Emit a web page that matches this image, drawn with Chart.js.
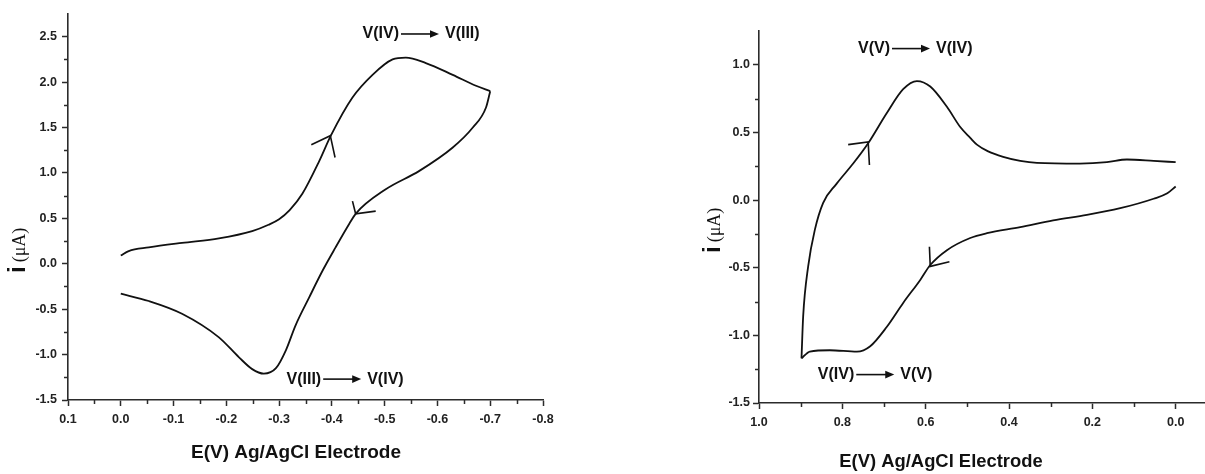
<!DOCTYPE html>
<html>
<head>
<meta charset="utf-8">
<script src="https://cdn.jsdelivr.net/npm/chart.js@4.4.1/dist/chart.umd.min.js"></script>
<style>
  html, body { margin: 0; padding: 0; background: #fff; }
  body { width: 1205px; height: 474px; position: relative; overflow: hidden; }
  .box { position: absolute; top: 0; height: 474px; }
  #boxL { left: 0; width: 560px; }
  #boxR { left: 640px; width: 565px; }
</style>
</head>
<body>
<div class="box" id="boxL"><canvas id="cL"></canvas></div>
<div class="box" id="boxR"><canvas id="cR"></canvas></div>
<script>
// ---------- Data: left voltammogram (V(III)/V(IV)) ----------
const leftForwardE = [0, -0.015, -0.053, -0.116, -0.186, -0.249, -0.28, -0.3, -0.32, -0.344, -0.376, -0.398, -0.439, -0.477, -0.515, -0.54, -0.578, -0.629, -0.673, -0.7];
const leftForwardI = [0.09, 0.14, 0.18, 0.23, 0.28, 0.36, 0.43, 0.49, 0.59, 0.77, 1.13, 1.41, 1.83, 2.08, 2.25, 2.27, 2.21, 2.08, 1.96, 1.90];
const leftReverseE = [-0.7, -0.692, -0.667, -0.629, -0.565, -0.502, -0.445, -0.433, -0.407, -0.382, -0.357, -0.331, -0.313, -0.294, -0.271, -0.249, -0.224, -0.186, -0.116, -0.053, 0];
const leftReverseI = [1.90, 1.72, 1.50, 1.28, 1.02, 0.82, 0.55, 0.44, 0.18, -0.08, -0.37, -0.68, -0.95, -1.15, -1.21, -1.16, -1.03, -0.81, -0.55, -0.41, -0.33];
const leftArrowUpE = [-0.361, -0.397, -0.406];
const leftArrowUpI = [1.31, 1.41, 1.17];
const leftArrowDownE = [-0.439, -0.445, -0.483];
const leftArrowDownI = [0.69, 0.55, 0.58];
const leftNoteFrom = ['V(IV)', 'V(III)'];
const leftNoteTo = ['V(III)', 'V(IV)'];
const leftNoteE = [-0.569, -0.425];
const leftNoteI = [2.53, -1.27];

// ---------- Data: right voltammogram (V(IV)/V(V)) ----------
const rightForwardE = [0.0, 0.02, 0.053, 0.133, 0.213, 0.294, 0.373, 0.453, 0.493, 0.549, 0.589, 0.613, 0.654, 0.694, 0.733, 0.765, 0.83, 0.878, 0.898];
const rightForwardI = [0.10, 0.05, 0.01, -0.06, -0.11, -0.15, -0.20, -0.245, -0.28, -0.37, -0.48, -0.59, -0.76, -0.94, -1.08, -1.12, -1.11, -1.12, -1.17];
const rightReverseE = [0.898, 0.894, 0.882, 0.866, 0.846, 0.814, 0.774, 0.738, 0.694, 0.654, 0.621, 0.589, 0.549, 0.517, 0.493, 0.477, 0.45, 0.414, 0.373, 0.333, 0.23, 0.165, 0.117, 0.053, 0.0];
const rightReverseI = [-1.17, -0.86, -0.49, -0.22, -0.02, 0.12, 0.27, 0.42, 0.64, 0.82, 0.88, 0.84, 0.69, 0.54, 0.46, 0.41, 0.36, 0.32, 0.29, 0.275, 0.27, 0.28, 0.30, 0.29, 0.28];
const rightArrowUpE = [0.786, 0.738, 0.735];
const rightArrowUpI = [0.41, 0.43, 0.26];
const rightArrowDownE = [0.591, 0.589, 0.543];
const rightArrowDownI = [-0.345, -0.49, -0.456];
const rightNoteFrom = ['V(V)', 'V(IV)'];
const rightNoteTo = ['V(IV)', 'V(V)'];
const rightNoteE = [0.625, 0.7215];
const rightNoteI = [1.12, -1.29];

// ---------- Axis ranges ----------
const leftXRange = [-0.8, 0.1];
const leftYRange = [-1.5, 2.75];
const rightXRange = [-0.068, 1.0];
const rightYRange = [-1.5, 1.25];
const axisTitleText = 'E(V) Ag/AgCl Electrode';
const yTitleMain = 'i';
const yTitleUnit = '(\u03bcA)';

const SANS = '"Liberation Sans", Arial, Helvetica, sans-serif';
const SERIF = '"Liberation Serif", "Times New Roman", serif';
const INK = '#111';
const AXIS = '#2b2b2b';

function pts(E, I) { return E.map((e, k) => ({ x: e, y: I[k] })); }
function curve(E, I) {
  return { data: pts(E, I), borderColor: INK, borderWidth: 1.8, pointRadius: 0, showLine: true,
           cubicInterpolationMode: 'monotone', fill: false };
}
function arrowLine(E, I) {
  return { data: pts(E, I), borderColor: INK, borderWidth: 1.6, pointRadius: 0, showLine: true, tension: 0, fill: false };
}
function fmt(v) { v = Number(v); if (Math.abs(v) < 1e-9) v = 0; return v.toFixed(1); }
function stepTicks(step) {
  return (scale) => {
    const out = [];
    const n0 = Math.ceil(scale.min / step - 1e-9), n1 = Math.floor(scale.max / step + 1e-9);
    for (let n = n0; n <= n1; n++) out.push({ value: Math.round(n * step * 1e6) / 1e6 });
    scale.ticks = out;
  };
}

const decor = {
  id: 'decor',
  afterDraw(chart, args, o) {
    const ctx = chart.ctx;
    const xs = chart.scales.x, ys = chart.scales.y;
    ctx.save();
    // minor ticks
    ctx.strokeStyle = AXIS; ctx.lineWidth = 1.5;
    const minor = (scale, step, major, horiz) => {
      const n0 = Math.ceil(scale.min / step - 1e-9), n1 = Math.floor(scale.max / step + 1e-9);
      for (let n = n0; n <= n1; n++) {
        const v = n * step;
        const r = v / major;
        if (Math.abs(r - Math.round(r)) < 1e-6) continue;
        if (Math.abs(v - scale.min) < 1e-9 || Math.abs(v - scale.max) < 1e-9) continue;
        const p = Math.round(scale.getPixelForValue(v)) + 0.5;
        ctx.beginPath();
        if (horiz) { ctx.moveTo(p, chart.chartArea.bottom); ctx.lineTo(p, chart.chartArea.bottom + 4); }
        else { ctx.moveTo(chart.chartArea.left, p); ctx.lineTo(chart.chartArea.left - 4, p); }
        ctx.stroke();
      }
    };
    minor(xs, o.xMinor, o.xMajor, true);
    minor(ys, o.yMinor, o.yMajor, false);

    // x axis title
    ctx.fillStyle = INK;
    ctx.font = 'bold ' + o.xTitleSize + 'px ' + SANS;
    ctx.textAlign = 'center'; ctx.textBaseline = 'middle';
    ctx.fillText(axisTitleText, o.xTitleX, o.xTitleY);

    // y axis title (rotated, mixed fonts)
    ctx.save();
    ctx.translate(o.yTitleX, o.yTitleY);
    ctx.rotate(-Math.PI / 2);
    ctx.textAlign = 'left'; ctx.textBaseline = 'alphabetic';
    ctx.font = 'bold 24px ' + SANS;
    ctx.fillText(yTitleMain, 0, 0);
    const wi = ctx.measureText(yTitleMain).width;
    ctx.font = '18px ' + SERIF;
    ctx.fillText(yTitleUnit, wi + 4, 0);
    ctx.restore();

    // reaction annotations
    ctx.font = 'bold 16px ' + SANS;
    ctx.textBaseline = 'middle'; ctx.textAlign = 'left';
    for (let k = 0; k < o.from.length; k++) {
      const cx = xs.getPixelForValue(o.noteE[k]);
      const cy = ys.getPixelForValue(o.noteI[k]);
      const w1 = ctx.measureText(o.from[k]).width;
      const w2 = ctx.measureText(o.to[k]).width;
      const L = 38, g1 = 2, g2 = 6;
      const total = w1 + g1 + L + g2 + w2;
      const x = cx - total / 2;
      ctx.fillText(o.from[k], x, cy);
      const ax0 = x + w1 + g1, ax1 = ax0 + L;
      ctx.strokeStyle = INK; ctx.lineWidth = 1.6;
      ctx.beginPath(); ctx.moveTo(ax0, cy); ctx.lineTo(ax1 - 7, cy); ctx.stroke();
      ctx.beginPath(); ctx.moveTo(ax1, cy); ctx.lineTo(ax1 - 9, cy - 3.8); ctx.lineTo(ax1 - 9, cy + 3.8); ctx.closePath(); ctx.fill();
      ctx.fillText(o.to[k], ax1 + g2, cy);
    }
    ctx.restore();
  }
};

function makeChart(id, cfg) {
  return new Chart(document.getElementById(id), {
    type: 'scatter',
    data: { datasets: cfg.datasets },
    options: {
      responsive: true, maintainAspectRatio: false, animation: false, devicePixelRatio: 1,
      layout: { padding: { top: cfg.padTop, right: cfg.padRight, left: 0, bottom: 0 } },
      plugins: { legend: { display: false }, tooltip: { enabled: false }, decor: cfg.decor },
      scales: {
        x: {
          type: 'linear', reverse: true, min: cfg.xRange[0], max: cfg.xRange[1],
          afterFit: s => { s.height = cfg.xHeight; },
          afterBuildTicks: stepTicks(cfg.decor.xMajor),
          ticks: { callback: fmt, padding: 6, maxRotation: 0, autoSkip: false,
                   color: '#222', font: { family: SANS, size: 12.5, weight: 'bold' } },
          grid: { display: true, drawOnChartArea: false, drawTicks: true, tickLength: 6, tickWidth: 1.5, tickColor: AXIS, color: AXIS },
          border: { display: true, color: AXIS, width: 1.6 },
          title: { display: false }
        },
        y: {
          type: 'linear', min: cfg.yRange[0], max: cfg.yRange[1],
          afterFit: s => { s.width = cfg.yWidth; },
          afterBuildTicks: stepTicks(cfg.decor.yMajor),
          ticks: { callback: fmt, padding: cfg.yPad, autoSkip: false,
                   color: '#222', font: { family: SANS, size: 12.5, weight: 'bold' } },
          grid: { display: true, drawOnChartArea: false, drawTicks: true, tickLength: 6, tickWidth: 1.5, tickColor: AXIS, color: AXIS },
          border: { display: true, color: AXIS, width: 1.6 },
          title: { display: false }
        }
      }
    },
    plugins: [decor]
  });
}

makeChart('cL', {
  datasets: [
    curve(leftForwardE, leftForwardI),
    curve(leftReverseE, leftReverseI),
    arrowLine(leftArrowUpE, leftArrowUpI),
    arrowLine(leftArrowDownE, leftArrowDownI)
  ],
  xRange: leftXRange, yRange: leftYRange,
  padTop: 14, padRight: 17, xHeight: 74, yWidth: 68, yPad: 5,
  decor: {
    xMajor: 0.1, xMinor: 0.05, yMajor: 0.5, yMinor: 0.25,
    xTitleX: 296, xTitleY: 453, xTitleSize: 19,
    yTitleX: 25, yTitleY: 273,
    from: leftNoteFrom, to: leftNoteTo, noteE: leftNoteE, noteI: leftNoteI
  }
});

makeChart('cR', {
  datasets: [
    curve(rightForwardE, rightForwardI),
    curve(rightReverseE, rightReverseI),
    arrowLine(rightArrowUpE, rightArrowUpI),
    arrowLine(rightArrowDownE, rightArrowDownI)
  ],
  xRange: rightXRange, yRange: rightYRange,
  padTop: 31, padRight: 1, xHeight: 71, yWidth: 119, yPad: 3,
  decor: {
    xMajor: 0.2, xMinor: 0.1, yMajor: 0.5, yMinor: 0.25,
    xTitleX: 301, xTitleY: 462, xTitleSize: 18.4,
    yTitleX: 80, yTitleY: 253,
    from: rightNoteFrom, to: rightNoteTo, noteE: rightNoteE, noteI: rightNoteI
  }
});
</script>
</body>
</html>
